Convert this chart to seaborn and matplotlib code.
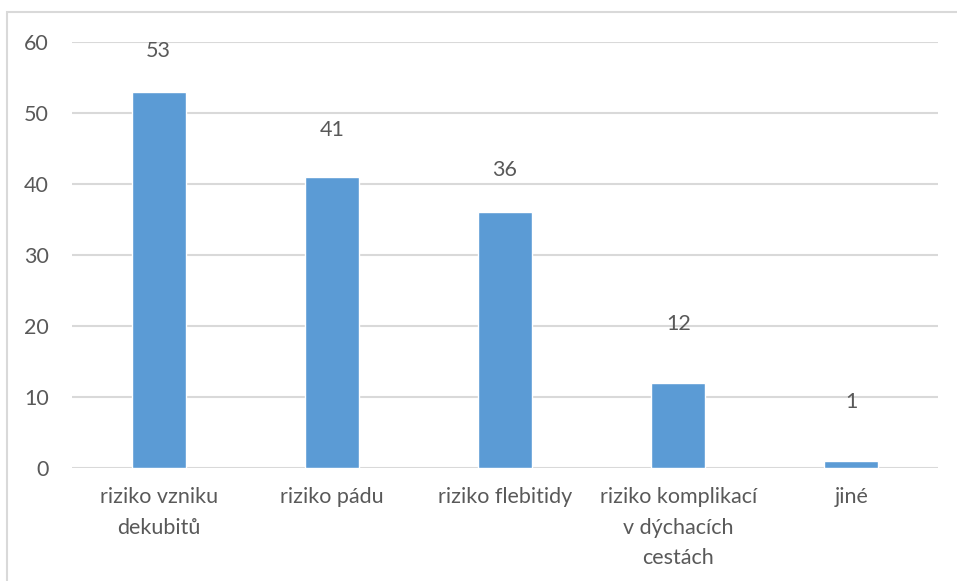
import matplotlib
matplotlib.use("Agg")
import matplotlib.pyplot as plt
import seaborn as sns
import pandas as pd
from matplotlib.patches import Rectangle

categories = [
    "riziko vzniku\ndekubitů",
    "riziko pádu",
    "riziko flebitidy",
    "riziko komplikací\nv dýchacích\ncestách",
    "jiné",
]
values = [53, 41, 36, 12, 1]
# vertical gap (pixels) between each bar top and its value label
label_gaps = [41, 47, 42, 59, 59]
y_ticks = [0, 10, 20, 30, 40, 50, 60]

sns.set_theme(style="white")
plt.rcParams["font.family"] = ["Lato", "DejaVu Sans"]

text_color = "#595959"
grid_color = "#d9d9d9"
bar_color = "#5B9BD5"
font_size = 15.5

df = pd.DataFrame({"kategorie": categories, "pocet": values})

fig = plt.figure(figsize=(9.57, 5.81), dpi=100)
ax = fig.add_axes([72 / 957, 1 - 468 / 581, (938 - 72) / 957, (468 - 42) / 581])

sns.barplot(data=df, x="kategorie", y="pocet", color=bar_color, width=0.312,
            saturation=1, ax=ax, zorder=3)

ax.set_ylim(0, 60)
ax.set_xlim(-0.5, len(categories) - 0.5)
ax.set_yticks(y_ticks)
ax.yaxis.grid(True, color=grid_color, linewidth=1.5, zorder=0)
ax.set_axisbelow(True)
for s in ax.spines.values():
    s.set_visible(False)
ax.set_xlabel("")
ax.set_ylabel("")
ax.tick_params(axis="y", length=0, pad=16.5, labelsize=font_size, labelcolor=text_color)
ax.tick_params(axis="x", length=0, pad=14, labelsize=font_size, labelcolor=text_color)
for lbl in ax.get_xticklabels():
    lbl.set_linespacing(1.65)

for i, (v, gap) in enumerate(zip(values, label_gaps)):
    ax.annotate(str(v), xy=(i, v), xytext=(0, gap), textcoords="offset pixels",
                ha="center", va="center", fontsize=font_size, color=text_color)

# chart frame
fig.patches.append(Rectangle((7.5 / 957, -0.1), 1.2, 1 - 12.5 / 581 + 0.1,
                             transform=fig.transFigure, fill=False,
                             edgecolor=grid_color, linewidth=1.5))

fig.savefig("out.png", dpi=100)
